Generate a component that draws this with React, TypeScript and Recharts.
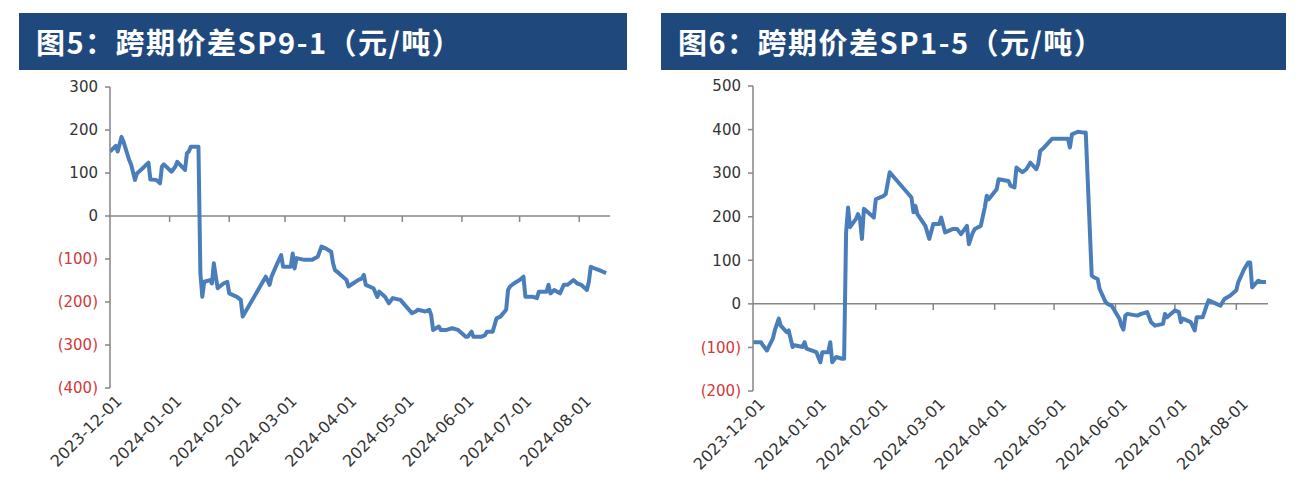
import React from "react";
import { LineChart, Line, XAxis, YAxis, ReferenceLine } from "recharts";

// SP9-1 spread (left panel)
const sp91Dates = [
  "2023-12-01", "2023-12-04", "2023-12-05", "2023-12-07", "2023-12-08", "2023-12-11", "2023-12-12",
  "2023-12-14", "2023-12-15", "2023-12-18", "2023-12-21", "2023-12-22", "2023-12-25", "2023-12-27",
  "2023-12-28", "2023-12-29", "2024-01-02", "2024-01-04", "2024-01-05", "2024-01-09", "2024-01-10",
  "2024-01-11", "2024-01-12", "2024-01-16", "2024-01-17", "2024-01-18", "2024-01-19", "2024-01-22",
  "2024-01-23", "2024-01-24", "2024-01-25", "2024-01-26", "2024-01-29", "2024-01-31", "2024-02-01",
  "2024-02-05", "2024-02-07", "2024-02-08", "2024-02-19", "2024-02-20", "2024-02-22", "2024-02-23",
  "2024-02-26", "2024-02-28", "2024-02-29", "2024-03-04", "2024-03-05", "2024-03-06", "2024-03-07",
  "2024-03-11", "2024-03-15", "2024-03-18", "2024-03-20", "2024-03-22", "2024-03-25", "2024-03-26",
  "2024-03-27", "2024-03-29", "2024-04-02", "2024-04-03", "2024-04-08", "2024-04-10", "2024-04-11",
  "2024-04-12", "2024-04-16", "2024-04-18", "2024-04-19", "2024-04-22", "2024-04-24", "2024-04-26",
  "2024-04-30", "2024-05-06", "2024-05-08", "2024-05-09", "2024-05-13", "2024-05-15", "2024-05-16",
  "2024-05-17", "2024-05-20", "2024-05-21", "2024-05-24", "2024-05-27", "2024-05-30", "2024-06-03",
  "2024-06-04", "2024-06-06", "2024-06-07", "2024-06-11", "2024-06-13", "2024-06-14", "2024-06-17",
  "2024-06-19", "2024-06-21", "2024-06-24", "2024-06-25", "2024-06-26", "2024-06-28", "2024-07-01",
  "2024-07-03", "2024-07-04", "2024-07-08", "2024-07-10", "2024-07-11", "2024-07-15", "2024-07-16",
  "2024-07-17", "2024-07-19", "2024-07-22", "2024-07-24", "2024-07-26", "2024-07-29", "2024-07-31",
  "2024-08-02", "2024-08-05", "2024-08-06", "2024-08-07", "2024-08-09", "2024-08-13", "2024-08-15",
];
const sp91Values = [
  150, 163, 150, 184, 173, 130, 119,
  84, 99, 111, 124, 85, 84, 76,
  115, 120, 103, 115, 126, 107, 146,
  150, 161, 161, -133, -188, -153, -149,
  -157, -110, -141, -168, -157, -153, -180,
  -188, -195, -234, -149, -141, -160, -141,
  -110, -91, -118, -118, -87, -122, -98,
  -102, -102, -95, -71, -75, -83, -110,
  -126, -133, -149, -164, -149, -145, -137,
  -160, -168, -188, -176, -188, -203, -191,
  -195, -226, -222, -218, -222, -218, -230,
  -265, -257, -265, -265, -261, -265, -281,
  -281, -269, -281, -281, -277, -269, -269,
  -238, -234, -218, -172, -164, -157, -149,
  -141, -188, -188, -191, -176, -176, -160,
  -180, -172, -180, -160, -160, -149, -157,
  -160, -172, -153, -118, -122, -129, -133,
];

// SP1-5 spread (right panel)
const sp15Dates = [
  "2023-12-01", "2023-12-05", "2023-12-06", "2023-12-08", "2023-12-11", "2023-12-12", "2023-12-14",
  "2023-12-15", "2023-12-18", "2023-12-19", "2023-12-20", "2023-12-21", "2023-12-22", "2023-12-26",
  "2023-12-27", "2023-12-28", "2024-01-02", "2024-01-04", "2024-01-05", "2024-01-08", "2024-01-09",
  "2024-01-10", "2024-01-12", "2024-01-15", "2024-01-16", "2024-01-17", "2024-01-18", "2024-01-19",
  "2024-01-22", "2024-01-23", "2024-01-24", "2024-01-25", "2024-01-26", "2024-01-29", "2024-01-31",
  "2024-02-01", "2024-02-05", "2024-02-06", "2024-02-08", "2024-02-19", "2024-02-20", "2024-02-21",
  "2024-02-22", "2024-02-26", "2024-02-28", "2024-03-01", "2024-03-04", "2024-03-05", "2024-03-07",
  "2024-03-11", "2024-03-13", "2024-03-15", "2024-03-18", "2024-03-19", "2024-03-21", "2024-03-22",
  "2024-03-25", "2024-03-27", "2024-03-28", "2024-03-29", "2024-04-02", "2024-04-03", "2024-04-08",
  "2024-04-09", "2024-04-11", "2024-04-12", "2024-04-15", "2024-04-17", "2024-04-19", "2024-04-22",
  "2024-04-23", "2024-04-24", "2024-04-26", "2024-04-29", "2024-04-30", "2024-05-06", "2024-05-08",
  "2024-05-09", "2024-05-10", "2024-05-13", "2024-05-16", "2024-05-17", "2024-05-20", "2024-05-21",
  "2024-05-23", "2024-05-24", "2024-05-27", "2024-05-28", "2024-05-30", "2024-05-31", "2024-06-03",
  "2024-06-04", "2024-06-05", "2024-06-06", "2024-06-07", "2024-06-12", "2024-06-14", "2024-06-17",
  "2024-06-19", "2024-06-21", "2024-06-25", "2024-06-26", "2024-06-27", "2024-07-01", "2024-07-03",
  "2024-07-04", "2024-07-05", "2024-07-09", "2024-07-11", "2024-07-12", "2024-07-15", "2024-07-17",
  "2024-07-18", "2024-07-22", "2024-07-24", "2024-07-26", "2024-07-29", "2024-08-01", "2024-08-02",
  "2024-08-05", "2024-08-07", "2024-08-08", "2024-08-09", "2024-08-12", "2024-08-14", "2024-08-16",
];
const sp15Values = [
  -88, -88, -95, -107, -80, -61, -34,
  -50, -65, -61, -80, -99, -95, -99,
  -88, -103, -111, -134, -111, -111, -88,
  -134, -122, -126, -126, 164, 221, 176,
  195, 206, 195, 149, 218, 206, 198,
  240, 248, 252, 302, 244, 210, 225,
  206, 179, 149, 183, 183, 198, 164,
  172, 172, 160, 179, 137, 164, 172,
  179, 221, 248, 240, 263, 286, 282,
  271, 267, 313, 302, 309, 324, 309,
  321, 351, 359, 374, 379, 379, 379,
  359, 389, 395, 393, 393, 65, 61,
  57, 34, 4, 0, -4, -11, -34,
  -50, -59, -27, -23, -27, -23, -19,
  -42, -50, -46, -23, -31, -15, -19,
  -42, -34, -42, -61, -31, -31, -4,
  8, 0, -4, 11, 19, 31, 50,
  80, 95, 95, 38, 53, 50, 50,
];

const monthTicks = [
  "2023-12-01", "2024-01-01", "2024-02-01", "2024-03-01", "2024-04-01",
  "2024-05-01", "2024-06-01", "2024-07-01", "2024-08-01",
];
const sp91YTicks = [-400, -300, -200, -100, 0, 100, 200, 300];
const sp15YTicks = [-200, -100, 0, 100, 200, 300, 400, 500];
const axisStart = "2023-12-01";
const axisEnd = "2024-08-17";

const toTime = (d: string) => Date.UTC(+d.slice(0, 4), +d.slice(5, 7) - 1, +d.slice(8, 10));
const tickTimes = monthTicks.map(toTime);

const AXIS = "#868686";
const LINE = "#4a7ebb";
const FONT = "'DejaVu Sans', Verdana, sans-serif";

function XTick({ x, y, payload }: any) {
  const label = new Date(payload.value).toISOString().slice(0, 10);
  return (
    <g transform={`translate(${x + 9},${y + 2})`}>
      <text textAnchor="end" transform="rotate(-45)" fontSize={16} fill="#333" fontFamily={FONT} dy="0.35em">
        {label}
      </text>
    </g>
  );
}

function YTick({ x, y, payload }: any) {
  const v = payload.value as number;
  const neg = v < 0;
  return (
    <text x={x} y={y} dy="0.35em" textAnchor="end" fontSize={15} fontFamily={FONT} fill={neg ? "#d03a3a" : "#333"}>
      {neg ? `(${Math.abs(v)})` : v}
    </text>
  );
}

type PanelProps = {
  title: string;
  dates: string[];
  values: number[];
  yTicks: number[];
  left: number;
  width: number;
  margin: { top: number; right: number; bottom: number; left: number };
  titleBox: { left: number; width: number };
};

function Panel({ title, dates, values, yTicks, left, width, margin, titleBox }: PanelProps) {
  const data = dates.map((d, i) => ({ t: toTime(d), v: values[i] }));
  return (
    <>
      <div
        style={{
          position: "absolute",
          left: titleBox.left,
          top: 13,
          width: titleBox.width,
          height: 57,
          background: "#1f497d",
          color: "#fff",
          fontFamily: "'Noto Sans CJK SC', sans-serif",
          fontWeight: 700,
          fontSize: 29,
          letterSpacing: 1.5,
          lineHeight: "57px",
          paddingLeft: 17,
          boxSizing: "border-box",
          whiteSpace: "nowrap",
        }}
      >
        {title}
      </div>
      <div style={{ position: "absolute", left, top: 0 }}>
        <LineChart width={width} height={494} data={data} margin={margin}>
          <XAxis
            dataKey="t"
            type="number"
            domain={[toTime(axisStart), toTime(axisEnd)]}
            ticks={tickTimes}
            interval={0}
            axisLine={false}
            tickLine={false}
            tickSize={6}
            tickMargin={2}
            height={80}
            tick={<XTick />}
            allowDataOverflow
          />
          <YAxis
            domain={[yTicks[0], yTicks[yTicks.length - 1]]}
            ticks={yTicks}
            interval={0}
            width={60}
            axisLine={{ stroke: AXIS, strokeWidth: 1.5 }}
            tickLine={{ stroke: AXIS, strokeWidth: 1.5 }}
            tickSize={5}
            tickMargin={7}
            tick={<YTick />}
          />
          <ReferenceLine y={0} stroke={AXIS} strokeWidth={1.5} />
          {tickTimes.slice(1).map((t) => (
            <ReferenceLine
              key={t}
              segment={[{ x: t, y: 0 }, { x: t, y: -14 }]}
              stroke={AXIS}
              strokeWidth={1.5}
            />
          ))}
          <Line
            type="linear"
            dataKey="v"
            stroke={LINE}
            strokeWidth={4}
            strokeLinejoin="round"
            dot={false}
            isAnimationActive={false}
          />
        </LineChart>
      </div>
    </>
  );
}

export default function App() {
  return (
    <div style={{ position: "absolute", left: 0, top: 0, width: 1315, height: 494, background: "#fff" }}>
      <Panel
        title="图5：跨期价差SP9-1（元/吨）"
        dates={sp91Dates}
        values={sp91Values}
        yTicks={sp91YTicks}
        left={0}
        width={630}
        margin={{ top: 87, right: 20, bottom: 26, left: 50 }}
        titleBox={{ left: 19, width: 608 }}
      />
      <Panel
        title="图6：跨期价差SP1-5（元/吨）"
        dates={sp15Dates}
        values={sp15Values}
        yTicks={sp15YTicks}
        left={640}
        width={650}
        margin={{ top: 86, right: 22, bottom: 23, left: 53 }}
        titleBox={{ left: 661, width: 625 }}
      />
    </div>
  );
}
